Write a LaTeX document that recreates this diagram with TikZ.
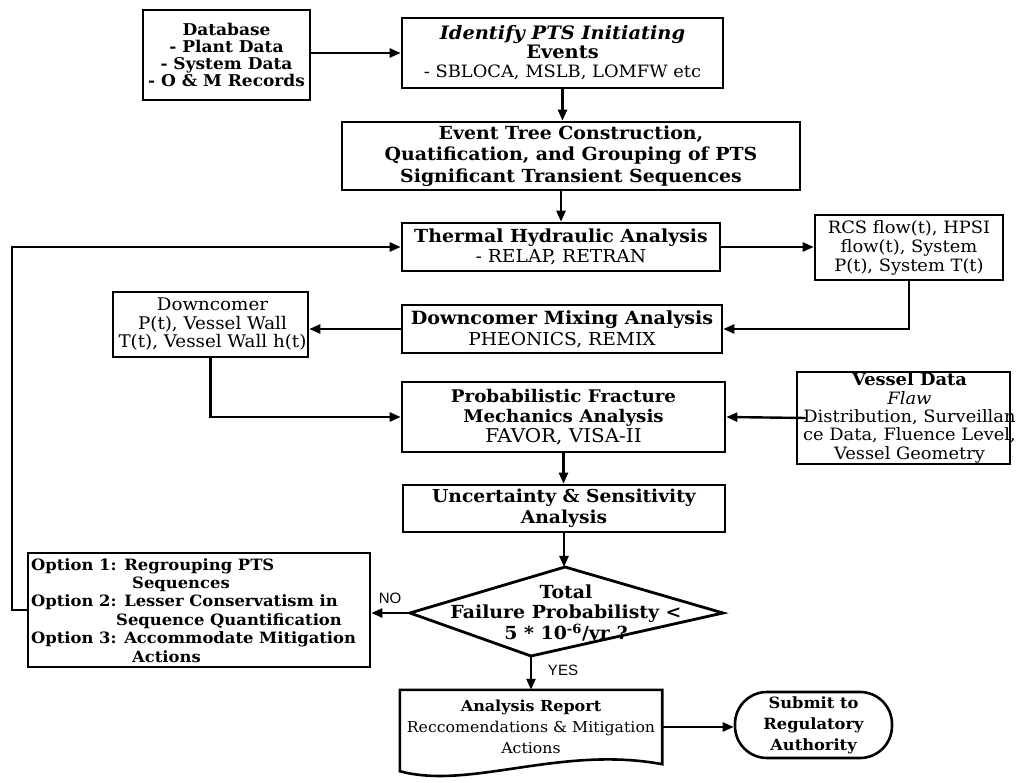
\documentclass[tikz,border=0pt]{standalone}
\usepackage{fontspec}
\setmainfont{DejaVu Serif}[FakeStretch=1.05]
\newfontfamily\labelfont{Liberation Sans}
\usetikzlibrary{arrows.meta}
\begin{document}
\begin{tikzpicture}[x=1pt,y=-1pt,
  box/.style={draw,line width=2.6pt,align=center,inner sep=0pt},
  conn/.style={line width=2.4pt,-{Triangle[length=11pt,width=9pt]}},
  bft/.style 2 args={font=\bfseries\fontsize{#1}{#2}\selectfont},
  lbl/.style={font=\labelfont\fontsize{15}{18}\selectfont,inner sep=0pt}]
\useasboundingbox (0,0) rectangle (1021,783);
% boxes
\node[box,bft={16.2}{17.3},minimum width=167,minimum height=90] (db) at (226.5,55)
  {Database\\- Plant Data\\- System Data\\- O \& M Records};
\node[box,bft={18.5}{19},minimum width=321,minimum height=70] (ident) at (562.5,53)
  {\textit{Identify PTS Initiating}\\Events\\\mdseries\fontsize{17}{19}\selectfont - SBLOCA, MSLB, LOMFW etc};
\node[box,bft={18}{21.5},minimum width=458,minimum height=68] (etree) at (571,156)
  {Event Tree Construction,\\Quatification, and Grouping of PTS\\Significant Transient Sequences};
\node[box,bft={18}{20},minimum width=318,minimum height=48] (thermal) at (561,247)
  {Thermal Hydraulic Analysis\\\mdseries\fontsize{17.8}{20}\selectfont - RELAP, RETRAN};
\node[box,font=\fontsize{17}{19}\selectfont,minimum width=188,minimum height=65] (rcs) at (909,247.5)
  {RCS flow(t), HPSI\\flow(t), System\\P(t), System T(t)};
\node[box,bft={18.2}{21},minimum width=320,minimum height=48] (mix) at (562,329)
  {Downcomer Mixing Analysis\\\mdseries\fontsize{17.8}{21}\selectfont PHEONICS, REMIX};
\node[box,minimum width=195,minimum height=65] (dcdata) at (210.5,324.5) {};
\node[font=\fontsize{17.4}{18.5}\selectfont,align=center,inner sep=0pt] (dctext) at ([xshift=2pt]dcdata.center)
  {Downcomer\\P(t), Vessel Wall\\T(t), Vessel Wall h(t)};
\node[box,bft={17.4}{20},minimum width=323,minimum height=70] (pfm) at (563.5,417)
  {Probabilistic Fracture\\Mechanics Analysis\\\mdseries\fontsize{19}{20}\selectfont FAVOR, VISA-II};
\node[box,minimum width=213,minimum height=92] (vessel) at (903.5,418) {};
\node[font=\fontsize{17}{18.3}\selectfont,align=center,inner sep=0pt] (vtext) at ([xshift=6pt]vessel.center)
  {\bfseries Vessel Data\\\itshape Flaw\\Distribution, Surveillan\\ce Data, Fluence Level,\\Vessel Geometry};
\node[box,bft={17.8}{21},minimum width=322,minimum height=47] (unc) at (564,508.5)
  {Uncertainty \& Sensitivity\\Analysis};
% decision
\coordinate (dtop) at (565,567);
\coordinate (dright) at (723,613);
\coordinate (dbot) at (531,656);
\coordinate (dleft) at (410,613);
\draw[line width=2.8pt,line join=miter] (dtop)--(dright)--(dbot)--(dleft)--cycle;
\node[bft={18}{20.5},align=center,inner sep=0pt] (dtext) at (566,614)
  {Total\\Failure Probabilisty <\\5 * 10\textsuperscript{-6}/yr ?};
% options
\node[box,minimum width=342,minimum height=114] (options) at (199,610) {};
\node[bft={15.6}{18.4},align=left,inner sep=0pt,anchor=north west] (otext) at (31,558)
  {Option 1: Regrouping PTS\\\hspace*{101pt}Sequences\\Option 2: Lesser Conservatism in\\\hspace*{85pt}Sequence Quantification\\Option 3: Accommodate Mitigation\\\hspace*{101pt}Actions};
% report
\node[bft={15.2}{21},align=center,inner sep=0pt,minimum width=262,minimum height=74] (report) at (531,727)
  {Analysis Report\\\mdseries\fontsize{15}{21}\selectfont Reccomendations \& Mitigation\\\mdseries\fontsize{15}{21}\selectfont Actions};
\draw[line width=2.6pt,line join=miter] ([yshift=-7pt]report.south west) -- (report.north west) -- (report.north east) -- (report.south east)
  .. controls +(-102,-19) and +(70,19) .. ([yshift=-7pt]report.south west) -- cycle;
\node[box,bft={15.5}{21},rounded corners=32pt,minimum width=157,minimum height=66] (submit) at (813.5,725)
  {Submit to\\Regulatory\\Authority};
% connectors
\draw[conn] (db.east |- ident.west) -- (ident.west);
\draw[conn] (ident.south) -- (ident.south |- etree.north);
\draw[conn] (thermal.north |- etree.south) -- (thermal.north);
\draw[conn] (thermal.east) -- (thermal.east -| rcs.west);
\draw[conn] (rcs.south) |- (mix.east);
\draw[conn] (mix.west) -- (mix.west -| dcdata.east);
\draw[conn] (dcdata.south) |- (pfm.west);
\draw[conn] ([xshift=10pt]vessel.west) -- (pfm.east);
\draw[conn] (pfm.south) -- (pfm.south |- unc.north);
\draw[conn] (unc.south) -- (unc.south |- dtop);
\draw[conn] (dleft) -- (dleft -| options.east);
\node[lbl] (no) at (390,598) {NO};
\draw[conn] (dbot) -- (dbot |- report.north);
\node[lbl] (yes) at (563,670) {YES};
\draw[conn] (options.west) -- ++(-15,0) |- (thermal.west);
\draw[conn] (report.east) -- (report.east -| submit.west);
\end{tikzpicture}
\end{document}
